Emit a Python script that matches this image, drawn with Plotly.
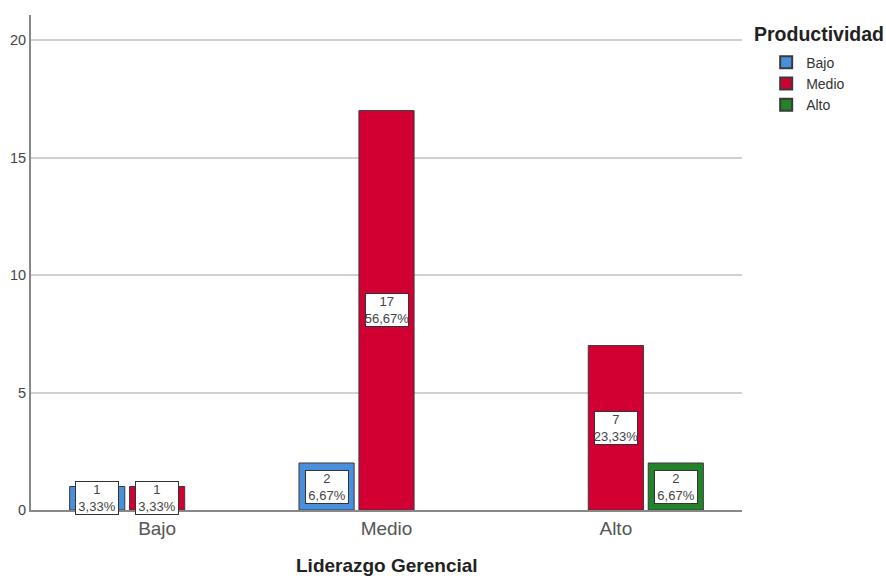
import plotly.graph_objects as go

categories = ["Bajo", "Medio", "Alto"]
series_names = ["Bajo", "Medio", "Alto"]
counts = {
    "Bajo": [1, 2, None],
    "Medio": [1, 17, 7],
    "Alto": [None, None, 2],
}
percents = {
    "Bajo": ["3,33%", "6,67%", None],
    "Medio": ["3,33%", "56,67%", "23,33%"],
    "Alto": [None, None, "6,67%"],
}
colors = {"Bajo": "#4a8fdb", "Medio": "#d20032", "Alto": "#23822a"}
y_ticks = [0, 5, 10, 15, 20]

bargap = 0.216
bargroupgap = 0.08
n = len(series_names)
slot = (1 - bargap) / n

FONT = "Liberation Sans, Arial"

fig = go.Figure()
xs = list(range(len(categories)))
for s in series_names:
    fig.add_trace(go.Bar(
        x=xs, y=counts[s], name=s,
        marker=dict(color=colors[s], line=dict(color="#3a3a3a", width=1)),
        hoverinfo="skip",
    ))

annotations = []
for si, s in enumerate(series_names):
    offset = (si - (n - 1) / 2) * slot
    for ci, v in enumerate(counts[s]):
        if v is None:
            continue
        annotations.append(dict(
            x=ci + offset, y=v / 2, xref="x", yref="y",
            text=f"{v}<br>{percents[s][ci]}",
            showarrow=False,
            font=dict(family=FONT, size=13, color="#444444"),
            bgcolor="white", bordercolor="#333333", borderwidth=1, borderpad=0,
            align="center", width=42,
        ))

plot_w = 886 - 31 - 144
plot_h = 578 - 15 - 68
annotations.append(dict(
    x=(752 - 31) / plot_w, y=(578 - 68 - 34) / plot_h,
    xref="paper", yref="paper", text="<b>Productividad</b>",
    showarrow=False, xanchor="left", yanchor="middle",
    font=dict(family=FONT, size=19.5, color="#222222"),
))
annotations.append(dict(
    x=(387 - 31) / plot_w, y=-(565 - 510) / plot_h,
    xref="paper", yref="paper", text="<b>Liderazgo Gerencial</b>",
    showarrow=False, xanchor="center", yanchor="middle",
    font=dict(family=FONT, size=19, color="#222222"),
))

fig.update_layout(
    width=886, height=578,
    margin=dict(l=31, r=144, t=15, b=68, autoexpand=False),
    paper_bgcolor="white", plot_bgcolor="white",
    barmode="group", bargap=bargap, bargroupgap=bargroupgap,
    showlegend=True,
    legend=dict(
        x=1.034, y=0.936, xanchor="left", yanchor="top",
        font=dict(family=FONT, size=14, color="#333333"),
        itemsizing="constant", tracegroupgap=0,
        bgcolor="rgba(0,0,0,0)", itemwidth=30,
    ),
    xaxis=dict(
        tickvals=xs, ticktext=categories, range=[-0.55, 2.55],
        showgrid=False, zeroline=False, automargin=False,
        showline=True, linecolor="#888888", linewidth=2,
        ticks="", ticklen=4, tickcolor="rgba(0,0,0,0)",
        tickfont=dict(family=FONT, size=19, color="#555555"),
    ),
    yaxis=dict(
        range=[0, 21.07], tickvals=y_ticks, automargin=False,
        showgrid=True, gridcolor="#d0d0d0", gridwidth=1.5,
        zeroline=False, showline=True, linecolor="#888888", linewidth=2,
        ticks="", tickfont=dict(family=FONT, size=14.5, color="#444444"),
    ),
    annotations=annotations,
)

fig.write_html("out.html")
